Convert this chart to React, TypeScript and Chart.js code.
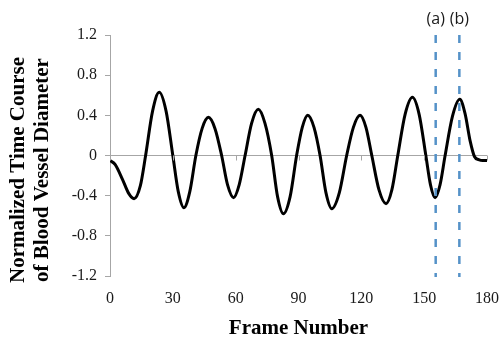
import { useEffect, useRef } from 'react';
import { Chart, registerables } from 'chart.js';

Chart.register(...registerables);

const frames = [0, 2.5, 6, 9, 11.5, 14.5, 17, 20.3, 23.5, 26.8, 30, 32.6, 35.3, 38.1, 41, 44, 47, 50.1, 53.3, 56.1, 59, 61.7, 64.5, 67.6, 70.8, 74, 77.2, 80, 82.8, 86, 89.1, 91.8, 94.4, 97.4, 100.3, 103.1, 105.9, 109.5, 113, 116.2, 119.4, 122.2, 125, 128.4, 131.8, 134.6, 137.4, 140.9, 144.4, 147.6, 150.8, 153, 155.2, 157.6, 160, 163.5, 167, 169.5, 172, 174, 176, 178, 180];
const diameter = [-0.05, -0.09, -0.24, -0.38, -0.43, -0.3, 0, 0.44, 0.63, 0.44, 0, -0.36, -0.52, -0.36, 0, 0.27, 0.38, 0.27, 0, -0.29, -0.42, -0.29, 0, 0.32, 0.46, 0.32, 0, -0.41, -0.58, -0.41, 0, 0.28, 0.4, 0.28, 0, -0.37, -0.53, -0.37, 0, 0.28, 0.4, 0.28, 0, -0.34, -0.48, -0.34, 0, 0.41, 0.58, 0.41, 0, -0.29, -0.42, -0.29, 0, 0.39, 0.56, 0.42, 0.14, -0.01, -0.04, -0.05, -0.05];

const xTicks = [0, 30, 60, 90, 120, 150, 180];
const yTicks = [-1.2, -0.8, -0.4, 0, 0.4, 0.8, 1.2];
const markerFrames = [155.5, 166.8];
const markerLabels = ['(a)', '(b)'];
const xTitle = 'Frame Number';
const yTitleLines = ['Normalized Time Course', 'of Blood Vessel Diameter'];

const overlayPlugin = {
  id: 'overlay',
  afterDatasetsDraw(chart: any) {
    const { ctx, chartArea, scales } = chart;
    const xs = scales.x;
    const ys = scales.y;
    const y0 = ys.getPixelForValue(0);
    ctx.save();
    // tick marks on the zero line
    ctx.strokeStyle = '#a6a6a6';
    ctx.lineWidth = 1;
    xTicks.forEach((t) => {
      const x = Math.round(xs.getPixelForValue(t)) + 0.5;
      ctx.beginPath();
      ctx.moveTo(x, y0);
      ctx.lineTo(x, y0 + 5);
      ctx.stroke();
    });
    // dashed markers
    ctx.strokeStyle = '#5592c8';
    ctx.lineWidth = 2.5;
    ctx.setLineDash([8, 9]);
    markerFrames.forEach((f) => {
      const x = xs.getPixelForValue(f);
      ctx.beginPath();
      ctx.moveTo(x, chartArea.top);
      ctx.lineTo(x, chartArea.bottom + 1);
      ctx.stroke();
    });
    ctx.setLineDash([]);
    ctx.fillStyle = '#1a1a1a';
    ctx.font = '16px "Open Sans", "Liberation Sans", sans-serif';
    ctx.textAlign = 'center';
    ctx.textBaseline = 'middle';
    markerFrames.forEach((f, i) => {
      const x = xs.getPixelForValue(f);
      ctx.fillText(markerLabels[i], x, 19);
    });
    // y title
    ctx.fillStyle = '#000';
    ctx.font = 'bold 21px "Liberation Serif", "Times New Roman", serif';
    ctx.translate(0, 170);
    ctx.rotate(-Math.PI / 2);
    ctx.fillText(yTitleLines[0], 0, 19);
    ctx.fillText(yTitleLines[1], 0, 43);
    ctx.restore();
  },
};

export default function App() {
  const ref = useRef<HTMLCanvasElement>(null);
  useEffect(() => {
    document.body.style.margin = '0';
    const canvas = ref.current;
    if (!canvas) return;
    const chart = new Chart(canvas, {
      type: 'line',
      data: {
        datasets: [
          {
            data: frames.map((f, i) => ({ x: f, y: diameter[i] })),
            borderColor: '#000',
            borderWidth: 3,
            pointRadius: 0,
            cubicInterpolationMode: 'monotone',
            fill: false,
          },
        ],
      },
      options: {
        animation: false,
        responsive: false,
        devicePixelRatio: 1,
        layout: { padding: { top: 35, right: 13, left: 0, bottom: 0 } },
        plugins: { legend: { display: false }, tooltip: { enabled: false } },
        scales: {
          x: {
            type: 'linear',
            min: 0,
            max: 180,
            afterBuildTicks: (s: any) => {
              s.ticks = xTicks.map((v) => ({ value: v }));
            },
            afterFit: (s: any) => {
              s.height = 65;
              s.paddingLeft = 0;
              s.paddingRight = 0;
            },
            grid: { display: false },
            border: { display: false },
            ticks: {
              padding: 5,
              color: '#1a1a1a',
              font: { family: '"Liberation Serif", "Times New Roman", serif', size: 16 },
              maxRotation: 0,
            },
            title: {
              display: true,
              text: xTitle,
              color: '#000',
              padding: { top: 0, bottom: 0 },
              font: { family: '"Liberation Serif", "Times New Roman", serif', size: 21, weight: 'bold' },
            },
          },
          y: {
            min: -1.2,
            max: 1.2,
            afterBuildTicks: (s: any) => {
              s.ticks = yTicks.map((v) => ({ value: v }));
            },
            afterFit: (s: any) => {
              s.width = 110;
              s.paddingTop = 0;
              s.paddingBottom = 0;
            },
            grid: {
              color: (c: any) => (c.tick && c.tick.value === 0 ? '#a6a6a6' : 'rgba(0,0,0,0)'),
              tickColor: '#a6a6a6',
              tickLength: 5,
            },
            border: { display: true, color: '#a6a6a6', width: 1 },
            ticks: {
              padding: 8,
              color: '#1a1a1a',
              font: { family: '"Liberation Serif", "Times New Roman", serif', size: 16 },
              callback: (v: any) => String(Number(Number(v).toFixed(1))),
            },
          },
        },
      },
      plugins: [overlayPlugin],
    } as any);
    return () => chart.destroy();
  }, []);
  return <canvas ref={ref} width={500} height={341} style={{ display: 'block' }} />;
}
